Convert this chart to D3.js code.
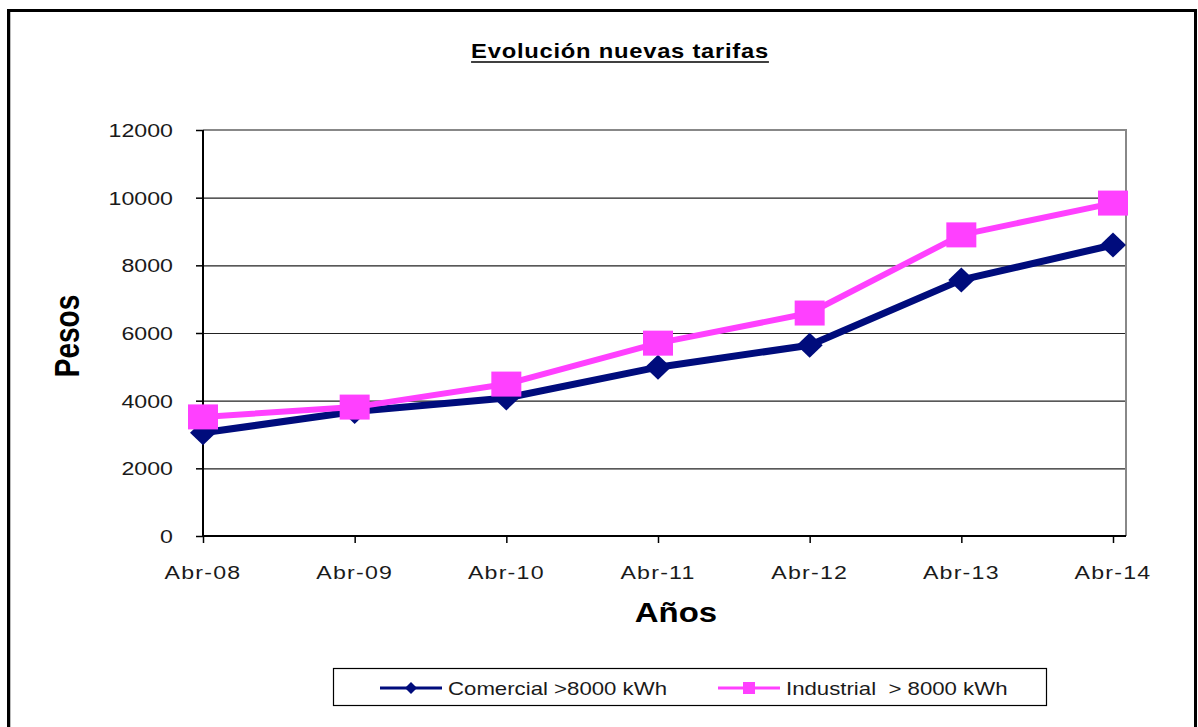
<!DOCTYPE html>
<html><head><meta charset="utf-8">
<script src="https://cdn.jsdelivr.net/npm/d3@7"></script>
<style>
html,body{margin:0;padding:0;background:#fff;}
svg text{font-family:"Liberation Sans",Arial,sans-serif;}
</style></head>
<body>
<svg id="c" width="1198" height="727"></svg>
<script>
const categories = ["Abr-08","Abr-09","Abr-10","Abr-11","Abr-12","Abr-13","Abr-14"];
const comercial = [3050, 3680, 4080, 4990, 5640, 7570, 8600];
const industrial = [3520, 3810, 4490, 5700, 6590, 8900, 9840];
const yTicks = [0, 2000, 4000, 6000, 8000, 10000, 12000];
const seriesNames = ["Comercial >8000 kWh", "Industrial  > 8000 kWh"];
const titleText = "Evolución nuevas tarifas";
const xTitle = "Años";
const yTitle = "Pesos";

const svg = d3.select("#c");
const SX = 1.22;
const navy = "#000c7c", magenta = "#ff40ff";

// outer frame
svg.append("path").attr("d","M8.5,727 V10.5 H1195.5 V727").attr("fill","none").attr("stroke","#000").attr("stroke-width",3);
svg.append("line").attr("x1",10.5).attr("x2",10.5).attr("y1",12).attr("y2",727).attr("stroke","#bbb").attr("stroke-width",1);

const plot = {left:203, right:1126, top:130, bottom:536};
const x = d3.scalePoint().domain(categories).range([203, 1113]).padding(0);
const y = d3.scaleLinear().domain([0, 12000]).range([plot.bottom, plot.top]);

function txt(g, s, px, py, size, weight, anchor, rot, ls){
  const t = g.append("text").attr("transform", `translate(${px},${py})` + (rot?` rotate(${rot})`:"") + ` scale(${rot?1:SX},${rot?SX:1})`)
    .attr("font-size", size).attr("font-weight", weight||"normal").attr("text-anchor", anchor||"start")
    .attr("fill", weight==="bold" ? "#000" : "#1a1a1a").attr("xml:space","preserve").style("white-space","pre")
    .attr("letter-spacing", ls||0).text(s);
  return t;
}

// gridlines
svg.append("g").selectAll("line").data(yTicks.filter(d=>d>0 && d<12000)).join("line")
  .attr("x1",plot.left).attr("x2",plot.right).attr("y1",d=>y(d)+0.5).attr("y2",d=>y(d)+0.5)
  .attr("stroke","#222").attr("stroke-width",1.2);

// plot border top/right gray
svg.append("path").attr("d",`M${plot.left},${plot.top} H${plot.right} V${plot.bottom}`).attr("fill","none").attr("stroke","#888").attr("stroke-width",2);

// y axis
const yAxis = svg.append("g").attr("transform",`translate(${plot.left},0)`)
  .call(d3.axisLeft(y).tickValues(yTicks).tickSize(7).tickFormat(""));
yAxis.select(".domain").attr("stroke","#000").attr("stroke-width",2).attr("d",`M0,${plot.top}V${plot.bottom}`);
yAxis.selectAll(".tick line").attr("stroke","#000").attr("stroke-width",1.5);
yTicks.forEach(v => txt(svg, String(v), 173, y(v)+7, 19, "normal", "end"));

// x axis
const xAxis = svg.append("g").attr("transform",`translate(0,${plot.bottom})`)
  .call(d3.axisBottom(x).tickSize(7).tickFormat(""));
xAxis.select(".domain").attr("stroke","#000").attr("stroke-width",2).attr("d",`M${plot.left},0H${plot.right}`);
xAxis.selectAll(".tick line").attr("stroke","#000").attr("stroke-width",1.5);
categories.forEach(c => txt(svg, c, x(c), 579, 19, "normal", "middle", 0, 1));

// lines
const line = d3.line().x((d,i)=>x(categories[i])).y(d=>y(d));
svg.append("path").datum(comercial).attr("d",line).attr("fill","none").attr("stroke",navy).attr("stroke-width",7).attr("stroke-linejoin","round");
svg.append("g").selectAll("path").data(comercial).join("path")
  .attr("d",(d,i)=>{const cx=x(categories[i]), cy=y(d); return `M${cx-13},${cy}L${cx},${cy-12.5}L${cx+13},${cy}L${cx},${cy+12.5}Z`;})
  .attr("fill",navy);

svg.append("path").datum(industrial).attr("d",line).attr("fill","none").attr("stroke",magenta).attr("stroke-width",6).attr("stroke-linejoin","round");
svg.append("g").selectAll("rect").data(industrial).join("rect")
  .attr("x",(d,i)=>x(categories[i])-15).attr("y",d=>y(d)-12.5).attr("width",30).attr("height",25)
  .attr("fill",magenta);

// title
const tt = txt(svg, titleText, 620, 58, 19.5, "bold", "middle", 0, 0.6);
const tb = tt.node().getBBox();
svg.append("line").attr("x1",620 - tb.width*SX/2).attr("x2",620 + tb.width*SX/2).attr("y1",62).attr("y2",62).attr("stroke","#000").attr("stroke-width",1.6);

// axis titles
txt(svg, xTitle, 676, 622, 27, "bold", "middle");
txt(svg, yTitle, 79, 336, 28, "bold", "middle", -90);

// legend
svg.append("rect").attr("x",333.5).attr("y",668.5).attr("width",713).attr("height",37).attr("fill","#fff").attr("stroke","#000").attr("stroke-width",1.2);
const ly = 688;
svg.append("line").attr("x1",380).attr("x2",442).attr("y1",ly).attr("y2",ly).attr("stroke",navy).attr("stroke-width",3);
svg.append("path").attr("d",`M${411-6},${ly}L411,${ly-6}L${411+6},${ly}L411,${ly+6}Z`).attr("fill",navy);
txt(svg, seriesNames[0], 448, ly+7, 18.2, "normal", "start");
svg.append("line").attr("x1",718).attr("x2",780).attr("y1",ly).attr("y2",ly).attr("stroke",magenta).attr("stroke-width",3);
svg.append("rect").attr("x",743).attr("y",ly-6).attr("width",12).attr("height",12).attr("fill",magenta);
txt(svg, seriesNames[1], 786, ly+7, 18.2, "normal", "start");
</script>
</body></html>
